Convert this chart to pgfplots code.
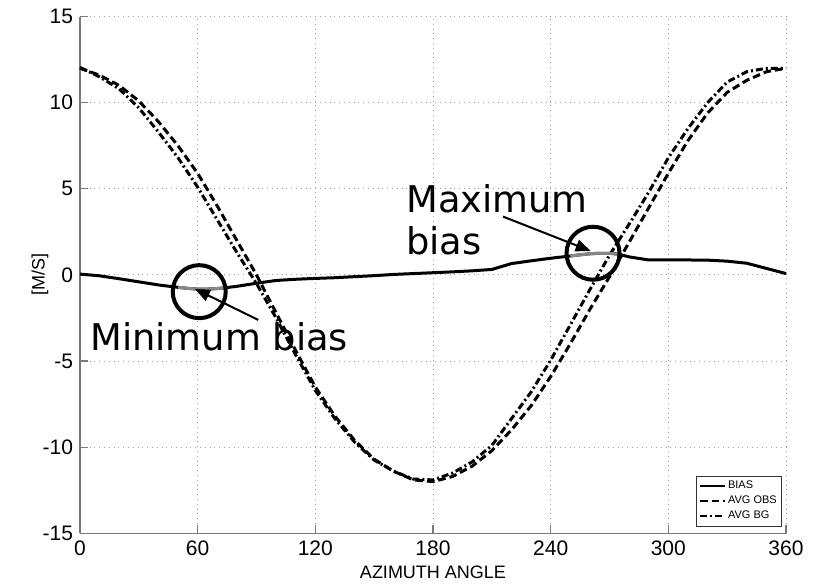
\documentclass[border=0pt]{standalone}
\usepackage{fontspec}
\setmainfont{Liberation Sans}
\newfontfamily\annfont{DejaVu Sans}
\usepackage{pgfplots}
\pgfplotsset{compat=1.18}
\usepackage{pgfplotstable}
\usetikzlibrary{arrows.meta}

% average observed wind component vs azimuth
\pgfplotstableread{
az val
0 12.0
10 11.6
20 11.0
30 10.1
40 8.9
50 7.5
60 5.9
70 4.0
80 2.0
90 0.0
100 -2.2
110 -4.4
120 -6.5
130 -8.2
140 -9.6
150 -10.7
160 -11.4
170 -11.9
180 -12.0
190 -11.7
200 -11.1
210 -10.2
220 -9.0
230 -7.6
240 -5.9
250 -4.0
260 -2.0
270 -0.1
280 1.9
290 3.9
300 5.9
310 7.8
320 9.4
330 10.6
340 11.3
350 11.8
360 12.0
}\obsdata

% average background (first guess)
\pgfplotstableread{
az val
0 12.05
10 11.5
20 10.8
30 9.7
40 8.3
50 6.8
60 5.1
70 3.2
80 1.3
90 -0.5
100 -2.5
110 -4.65
120 -6.7
130 -8.35
140 -9.7
150 -10.75
160 -11.4
170 -11.85
180 -11.9
190 -11.5
200 -10.85
210 -9.9
220 -8.35
230 -6.8
240 -4.95
250 -2.9
260 -0.85
270 1.15
280 2.95
290 4.8
300 6.8
310 8.5
320 10.0
330 11.2
340 11.8
350 12.0
360 12.0
}\bgdata

% bias (background minus observation)
\pgfplotstableread{
az val
0 0.05
10 -0.05
20 -0.22
30 -0.4
40 -0.58
50 -0.72
55 -0.78
60 -0.82
65 -0.82
70 -0.79
75 -0.73
80 -0.66
90 -0.48
100 -0.32
110 -0.25
120 -0.2
130 -0.16
140 -0.1
150 -0.04
160 0.03
170 0.08
180 0.13
190 0.18
200 0.24
210 0.32
220 0.66
230 0.82
240 0.97
250 1.1
255 1.17
260 1.23
265 1.26
270 1.26
275 1.2
280 1.05
290 0.87
300 0.87
310 0.87
320 0.86
330 0.8
340 0.68
350 0.38
360 0.08
}\biasdata

\definecolor{axgray}{RGB}{120,120,120}
\definecolor{hlgray}{RGB}{135,135,135}

\begin{document}
\begin{tikzpicture}
\begin{axis}[
  scale only axis,
  width=353pt, height=258.35pt,
  xmin=0, xmax=360, ymin=-15, ymax=15,
  xtick={0,60,...,360},
  ytick={-15,-10,...,15},
  axis x line*=bottom, axis y line*=left,
  axis line style={axgray, line width=0.6pt},
  tick align=inside,
  major tick length=4pt,
  tick style={axgray, line width=0.6pt},
  grid=major,
  major grid style={dotted, gray!75, line width=0.5pt},
  tick label style={font=\fontsize{10.5}{12}\selectfont},
  /pgf/number format/assume math mode=true,
  xlabel={AZIMUTH ANGLE},
  ylabel={[M/S]},
  xlabel style={font=\fontsize{9}{10}\selectfont, at={(axis description cs:0.5,-0.0747)}, anchor=center},
  ylabel style={font=\fontsize{9}{10}\selectfont, at={(axis description cs:-0.0567,0.5)}, anchor=center},
  clip=false,
  legend style={at={(rel axis cs:0.994,0.0128)}, anchor=south east,
    font=\fontsize{5.5}{6}\selectfont, draw=black!80, line width=0.4pt,
    inner sep=1.2pt, row sep=0pt,
    nodes={inner sep=1.1pt}},
  legend cell align=left,
  legend image code/.code={\draw[#1, line width=0.9pt] (0pt,0pt) -- (12.5pt,0pt);},
]
\addplot[black, line width=1.5pt] table[x=az, y=val] {\biasdata};
\addlegendentry{BIAS}
\addplot[black, line width=1.5pt, dash pattern=on 3.8pt off 2pt] table[x=az, y=val] {\obsdata};
\addlegendentry{AVG OBS}
\addplot[black, line width=1.5pt, dash pattern=on 3.5pt off 1.5pt on 1pt off 1.5pt] table[x=az, y=val] {\bgdata};
\addlegendentry{AVG BG}

% highlighted stretches of the bias curve
\addplot[hlgray, line width=1.5pt, forget plot, restrict x to domain=50:75] table[x=az, y=val] {\biasdata};
\addplot[hlgray, line width=1.5pt, forget plot, restrict x to domain=250:275] table[x=az, y=val] {\biasdata};

% rings around the bias extremes
\addplot[only marks, mark=o, mark size=13.25pt, mark options={line width=2pt, draw=black}, forget plot]
  coordinates {(60.8,-0.97) (261.6,1.26)};

% callouts
\node[anchor=base west, inner sep=0, font=\annfont\fontsize{18.4}{20}\selectfont] at (axis cs:5.1,-4.36) {Minimum bias};
\node[anchor=base west, inner sep=0, font=\annfont\fontsize{18.4}{20}\selectfont] at (axis cs:166.2,3.6) {Maximum};
\node[anchor=base west, inner sep=0, font=\annfont\fontsize{18.4}{20}\selectfont] at (axis cs:166.2,1.16) {bias};
\draw[line width=1pt, -{Triangle[length=7.5pt,width=6pt]}] (axis cs:90.9,-2.61) -- (axis cs:58.6,-0.81);
\draw[line width=1pt, -{Triangle[length=7.5pt,width=6pt]}] (axis cs:215.7,3.39) -- (axis cs:260.4,1.39);
\end{axis}
\path (-40pt,-23.35pt) rectangle (369.5pt,266.65pt);
\end{tikzpicture}
\end{document}
